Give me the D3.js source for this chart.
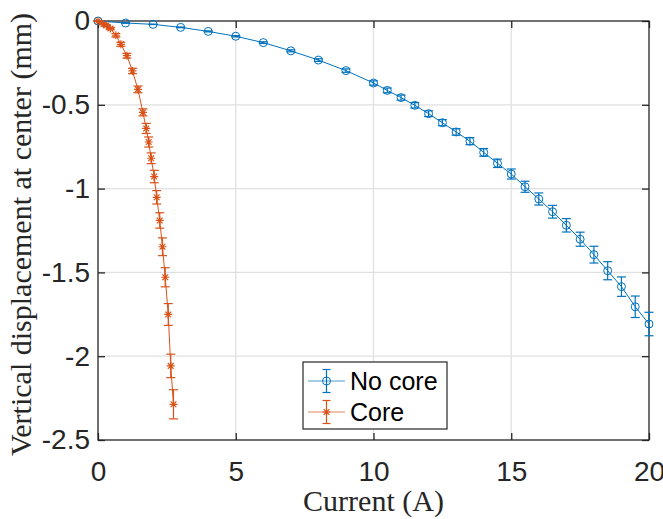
<!DOCTYPE html>
<html>
<head>
<meta charset="utf-8">
<script src="https://cdn.jsdelivr.net/npm/d3@7"></script>
<style>
  body { margin: 0; background: #fff; }
  svg { display: block; }
</style>
</head>
<body>
<div id="chart"></div>
<script>
// "No core" series
var noCoreCurrent = [0, 1, 2, 3, 4, 5, 6, 7, 8, 9, 10, 10.5, 11, 11.5, 12, 12.5, 13, 13.5, 14, 14.5,
                     15, 15.5, 16, 16.5, 17, 17.5, 18, 18.5, 19, 19.5, 20];
var noCoreDisp = [0, -0.012, -0.02, -0.038, -0.062, -0.091, -0.129, -0.178, -0.233, -0.296, -0.37,
                  -0.414, -0.457, -0.503, -0.553, -0.607, -0.662, -0.717, -0.784, -0.849, -0.913,
                  -0.989, -1.062, -1.138, -1.219, -1.302, -1.394, -1.49, -1.585, -1.705, -1.808];
var noCoreErr = [0, 0.001, 0.001, 0.002, 0.003, 0.004, 0.005, 0.006, 0.008, 0.01, 0.013, 0.014,
                 0.015, 0.016, 0.017, 0.018, 0.019, 0.021, 0.023, 0.025, 0.03, 0.033, 0.036, 0.038,
                 0.04, 0.042, 0.05, 0.054, 0.058, 0.064, 0.07];

// "Core" series
var coreCurrent = [0, 0.2, 0.3, 0.45, 0.65, 0.83, 1.05, 1.25, 1.45, 1.63, 1.75, 1.84, 1.93, 2.04,
                   2.13, 2.24, 2.34, 2.44, 2.55, 2.64, 2.74];
var coreDisp = [0, -0.018, -0.027, -0.045, -0.085, -0.139, -0.207, -0.298, -0.408, -0.545, -0.641,
                -0.722, -0.819, -0.928, -1.052, -1.19, -1.347, -1.529, -1.751, -2.058, -2.287];
var coreErr = [0.002, 0.004, 0.005, 0.007, 0.01, 0.012, 0.014, 0.016, 0.02, 0.021, 0.03, 0.03,
               0.032, 0.037, 0.04, 0.046, 0.053, 0.057, 0.065, 0.07, 0.087];

var xTicks = [0, 5, 10, 15, 20];
var yTicks = [0, -0.5, -1, -1.5, -2, -2.5];
var seriesNames = ["No core", "Core"];

var width = 663, height = 519;
var axisColor = "#262626", gridColor = "#e0e0e0";
var blue = "#0072BD", orange = "#D95319";

var svg = d3.select("#chart").append("svg")
            .attr("width", width)
            .attr("height", height);

var x = d3.scaleLinear().domain([0, 20]).range([98, 649]);
var y = d3.scaleLinear().domain([-2.5, 0]).range([440, 21]);

// grid
svg.append("g").selectAll("line").data(xTicks.slice(1, -1)).enter().append("line")
   .attr("x1", d => x(d)).attr("x2", d => x(d))
   .attr("y1", y(0)).attr("y2", y(-2.5))
   .style("stroke", gridColor).style("stroke-width", 1.3);
svg.append("g").selectAll("line").data(yTicks.slice(1, -1)).enter().append("line")
   .attr("x1", x(0)).attr("x2", x(20))
   .attr("y1", d => y(d)).attr("y2", d => y(d))
   .style("stroke", gridColor).style("stroke-width", 1.3);

// axes with inner ticks (box on)
var tickLen = 7;
var xAxisB = d3.axisBottom(x).tickValues(xTicks).tickSize(-tickLen).tickPadding(21).tickFormat(d3.format("d"));
var xAxisT = d3.axisTop(x).tickValues(xTicks).tickSize(-tickLen).tickFormat("");
var yAxisL = d3.axisLeft(y).tickValues(yTicks).tickSize(-tickLen).tickPadding(8).tickFormat(d => d === 0 ? "0" : "-" + Math.abs(d));
var yAxisR = d3.axisRight(y).tickValues(yTicks).tickSize(-tickLen).tickFormat("");

function styleAxis(g) {
  g.selectAll("path").style("stroke", axisColor).style("stroke-width", 1.3);
  g.selectAll("line").style("stroke", axisColor).style("stroke-width", 1.3);
  g.selectAll("text").style("fill", axisColor)
   .style("font-family", "'Liberation Sans', Arial, Helvetica, sans-serif")
   .style("font-size", "28px");
}

svg.append("g").attr("transform", "translate(0," + y(-2.5) + ")").call(xAxisB).call(styleAxis);
svg.append("g").attr("transform", "translate(0," + y(0) + ")").call(xAxisT).call(styleAxis);
svg.append("g").attr("transform", "translate(" + x(0) + ",0)").call(yAxisL).call(styleAxis);
svg.append("g").attr("transform", "translate(" + x(20) + ",0)").call(yAxisR).call(styleAxis);
svg.selectAll(".domain").attr("d", null);
svg.append("rect")
   .attr("x", x(0)).attr("y", y(0))
   .attr("width", x(20) - x(0)).attr("height", y(-2.5) - y(0))
   .style("fill", "none").style("stroke", axisColor).style("stroke-width", 1.3);

// axis labels
svg.append("text")
   .attr("x", (x(0) + x(20)) / 2).attr("y", 511)
   .attr("text-anchor", "middle")
   .style("font-family", "'Liberation Serif', 'Times New Roman', serif")
   .style("font-size", "30px").style("fill", axisColor)
   .text("Current (A)");
svg.append("text")
   .attr("transform", "translate(31," + ((y(0) + y(-2.5)) / 2 + 4) + ") rotate(-90)")
   .attr("text-anchor", "middle")
   .style("font-family", "'Liberation Serif', 'Times New Roman', serif")
   .style("font-size", "30px").style("fill", axisColor)
   .text("Vertical displacement at center (mm)");

// markers
function circleMarker(g, color) {
  g.append("circle").attr("r", 4).style("fill", "none").style("stroke", color).style("stroke-width", 1);
}
function starMarker(g, color) {
  var r = 4, a = r * 0.72;
  g.append("path")
   .attr("d", "M" + (-r) + ",0L" + r + ",0M0," + (-r) + "L0," + r +
              "M" + (-a) + "," + (-a) + "L" + a + "," + a + "M" + (-a) + "," + a + "L" + a + "," + (-a))
   .style("stroke", color).style("stroke-width", 1.2).style("fill", "none");
}

function drawSeries(xs, ys, errs, color, marker) {
  var pts = xs.map((d, i) => ({ x: d, y: ys[i], e: errs[i] }));
  var g = svg.append("g");
  var line = d3.line().x(d => x(d.x)).y(d => y(d.y));
  g.append("path").datum(pts).attr("d", line)
   .style("fill", "none").style("stroke", color).style("stroke-width", 1);

  var cap = 4.5;
  var eb = g.selectAll(".eb").data(pts).enter().append("g");
  eb.append("line")
    .attr("x1", d => x(d.x)).attr("x2", d => x(d.x))
    .attr("y1", d => y(d.y + d.e)).attr("y2", d => y(d.y - d.e))
    .style("stroke", color).style("stroke-width", 1.2);
  eb.append("line")
    .attr("x1", d => x(d.x) - cap).attr("x2", d => x(d.x) + cap)
    .attr("y1", d => y(d.y + d.e)).attr("y2", d => y(d.y + d.e))
    .style("stroke", color).style("stroke-width", 1.2);
  eb.append("line")
    .attr("x1", d => x(d.x) - cap).attr("x2", d => x(d.x) + cap)
    .attr("y1", d => y(d.y - d.e)).attr("y2", d => y(d.y - d.e))
    .style("stroke", color).style("stroke-width", 1.2);

  g.selectAll(".mk").data(pts).enter().append("g")
   .attr("transform", d => "translate(" + x(d.x) + "," + y(d.y) + ")")
   .each(function() { marker(d3.select(this), color); });
}

drawSeries(noCoreCurrent, noCoreDisp, noCoreErr, blue, circleMarker);
drawSeries(coreCurrent, coreDisp, coreErr, orange, starMarker);

// legend
var legend = svg.append("g");
legend.append("rect")
   .attr("x", 303).attr("y", 362).attr("width", 144).attr("height", 67)
   .style("fill", "#fff").style("stroke", axisColor).style("stroke-width", 1.2);
var items = [{ name: seriesNames[0], color: blue, marker: circleMarker, cy: 381 },
             { name: seriesNames[1], color: orange, marker: starMarker, cy: 412 }];
items.forEach(function(it) {
  var lg = legend.append("g");
  lg.append("line").attr("x1", 308).attr("x2", 345).attr("y1", it.cy).attr("y2", it.cy)
    .style("stroke", it.color).style("stroke-width", 1).style("opacity", 0.7);
  lg.append("line").attr("x1", 326.5).attr("x2", 326.5).attr("y1", it.cy - 11.5).attr("y2", it.cy + 11.5)
    .style("stroke", it.color).style("stroke-width", 1.2);
  lg.append("line").attr("x1", 322.5).attr("x2", 330.5).attr("y1", it.cy - 11.5).attr("y2", it.cy - 11.5)
    .style("stroke", it.color).style("stroke-width", 1.2);
  lg.append("line").attr("x1", 322.5).attr("x2", 330.5).attr("y1", it.cy + 11.5).attr("y2", it.cy + 11.5)
    .style("stroke", it.color).style("stroke-width", 1.2);
  var mk = lg.append("g").attr("transform", "translate(326.5," + it.cy + ")");
  it.marker(mk, it.color);
  lg.append("text").attr("x", 350).attr("y", it.cy + 9)
    .style("font-family", "'Liberation Sans', Arial, Helvetica, sans-serif")
    .style("font-size", "25px").style("fill", "#000")
    .text(it.name);
});
</script>
</body>
</html>
